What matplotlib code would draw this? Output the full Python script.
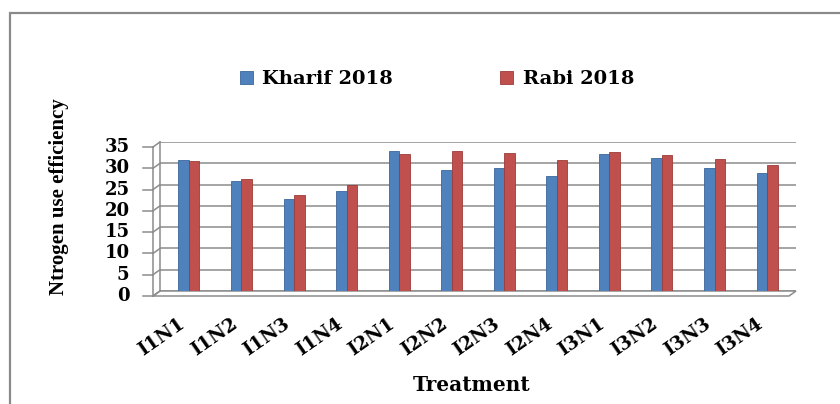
import numpy as np
import matplotlib
matplotlib.use('Agg')
from matplotlib import pyplot as plt
from matplotlib.patches import Rectangle, Polygon
from matplotlib.transforms import ScaledTranslation

# data
treatments = ['I1N1', 'I1N2', 'I1N3', 'I1N4', 'I2N1', 'I2N2',
              'I2N3', 'I2N4', 'I3N1', 'I3N2', 'I3N3', 'I3N4']
kharif = [30.8, 25.8, 21.5, 23.5, 33.0, 28.5, 28.8, 27.0, 32.2, 31.2, 28.9, 27.7]
rabi = [30.5, 26.3, 22.5, 25.0, 32.2, 33.0, 32.3, 30.8, 32.6, 32.0, 31.0, 29.6]
series_names = ['Kharif 2018', 'Rabi 2018']
yticks = [0, 5, 10, 15, 20, 25, 30, 35]

blue = '#4F81BD'
red = '#C0504D'
grid_col = '#8c8c8c'

fig = plt.figure(figsize=(8.4, 4.04), dpi=100)
ax = fig.add_axes([160 / 840, 1 - 291 / 404, 636 / 840, 149 / 404])

x = np.arange(len(treatments))
w = 0.2
b1 = ax.bar(x - w / 2, kharif, w, color=blue, edgecolor='#3b679c', linewidth=0.6,
            label=series_names[0], zorder=3)
b2 = ax.bar(x + w / 2, rabi, w, color=red, edgecolor='#9b3b38', linewidth=0.6,
            label=series_names[1], zorder=3)

ax.set_xlim(-0.55, 11.55)
ax.set_ylim(0, 35)
ax.set_yticks(yticks)
ax.yaxis.grid(True, color=grid_col, linewidth=1.1, zorder=0)
ax.set_axisbelow(True)
for s in ['top', 'right', 'left', 'bottom']:
    ax.spines[s].set_visible(False)

# simple 3D-ish floor and front axis
dx, dy = 7 / 636, 5 / 149
floor = Polygon([(0, 0), (1, 0), (1 - dx, -dy), (-dx, -dy)], closed=True,
                transform=ax.transAxes, facecolor='white', edgecolor=grid_col,
                linewidth=1.1, clip_on=False, zorder=1)
ax.add_patch(floor)
ax.plot([-dx, -dx], [-dy, 1 - dy], color=grid_col, lw=1.1, transform=ax.transAxes, clip_on=False)
ax.plot([0, 0], [0, 1], color=grid_col, lw=1.1, transform=ax.transAxes, clip_on=False)
for t in yticks:
    yf = t / 35
    ax.plot([-dx, 0], [yf - dy, yf], color=grid_col, lw=1.1, transform=ax.transAxes, clip_on=False)
    ax.plot([-dx - 10 / 636, -dx], [yf - dy, yf - dy], color=grid_col, lw=1.1,
            transform=ax.transAxes, clip_on=False)

ax.tick_params(axis='y', length=0, pad=22)
ax.set_xticks([])
for lab in ax.get_yticklabels():
    lab.set_fontsize(13)
    lab.set_fontweight('bold')
    lab.set_family('DejaVu Serif')
    lab.set_transform(lab.get_transform() + ScaledTranslation(0, -0.03, fig.dpi_scale_trans))

# category labels, slanted like the original
lab_off = ScaledTranslation(-0.06, -0.31, fig.dpi_scale_trans)
for xi, name in zip(x, treatments):
    ax.text(xi, 0, name, transform=ax.get_xaxis_transform() + lab_off,
            rotation=35, ha='right', va='center', rotation_mode='anchor',
            fontsize=13.5, fontweight='bold', family='DejaVu Serif')

fig.text(59 / 840, 1 - 197 / 404, 'Ntrogen use efficiency', rotation=90,
         ha='center', va='center', fontsize=15, fontweight='bold',
         family='Liberation Serif')
fig.text(472 / 840, 1 - 385 / 404, 'Treatment', ha='center', va='center',
         fontsize=14.5, fontweight='bold', family='DejaVu Serif')

fig.legend(handles=[b1, b2], loc='center', bbox_to_anchor=(437 / 840, 1 - 79 / 404),
           ncol=2, frameon=False, handlelength=0.65, handleheight=0.65,
           handletextpad=0.5, columnspacing=5.5,
           prop={'family': 'DejaVu Serif', 'weight': 'bold', 'size': 14})

# chart border (runs off the right and bottom of the image)
fig.patches.append(Rectangle((10 / 840, -0.2), 2, 1 - 13 / 404 + 0.2,
                             transform=fig.transFigure, fill=False,
                             edgecolor='#8a8a8a', linewidth=1.6))

fig.savefig('out.png', dpi=100)
